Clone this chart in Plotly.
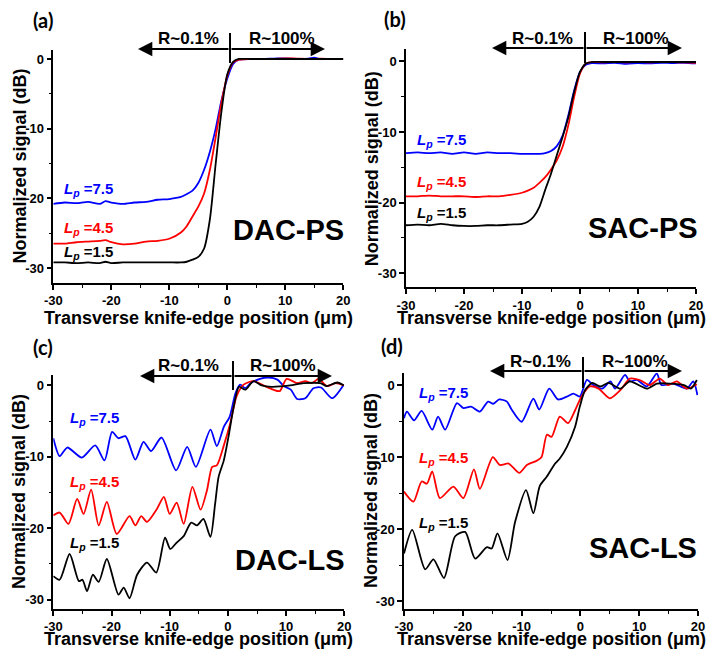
import plotly.graph_objects as go

# The page body has an 8 px margin; the figure is sized to fit inside it.
PAGE_W, PAGE_H = 714, 658
OFF = 8
W, H = PAGE_W - 2 * OFF, PAGE_H - 2 * OFF

# ---------------- data ----------------
X_TICKS = [-30, -20, -10, 0, 10, 20]
X_TICK_LABELS = ["-30", "-20", "-10", "0", "10", "20"]
Y_TICKS = [-30, -20, -10, 0]
Y_TICK_LABELS = ["-30", "-20", "-10", "0"]
LP_LABELS = ["7.5", "4.5", "1.5"]
PANEL_NAMES = ["DAC-PS", "SAC-PS", "DAC-LS", "SAC-LS"]
PANEL_TAGS = ["(a)", "(b)", "(c)", "(d)"]

# (a) DAC-PS
A_X = [-30, -28, -26, -24, -22, -21, -20, -18, -16, -14, -12, -10, -8, -7, -6, -5, -4, -3, -2, -1, 0, 1, 2, 4, 6, 8, 10, 12, 14, 15, 16, 18, 20]
A_BLUE = [-20.8, -20.6, -20.7, -20.5, -20.8, -20.4, -20.6, -20.8, -20.6, -20.5, -20.2, -20.1, -19.8, -19.4, -18.9, -17.8, -15.9, -13.3, -10.0, -5.9,
          -2.8, -0.7, -0.1, 0.0, 0.0, 0.05, 0.1, 0.0, 0.05, 0.2, 0.0, 0.0, 0.0]
A_RED = [-26.5, -26.5, -26.3, -26.2, -26.1, -26.0, -26.3, -26.6, -26.5, -26.2, -26.1, -25.8, -24.9, -24.0, -22.6, -21.2, -19.3, -15.9, -11.2, -6.2,
         -2.4, -0.5, -0.1, 0.0, 0.0, 0.0, 0.1, 0.05, 0.0, 0.0, 0.05, 0.0, 0.0]
A_BLACK = [-29.2, -29.2, -29.3, -29.2, -29.3, -29.1, -29.3, -29.2, -29.2, -29.2, -29.2, -29.2, -29.2, -29.1, -28.8, -28.4, -27.2, -23.0, -15.0, -7.5,
           -2.2, -0.4, 0.0, 0.0, 0.0, 0.0, 0.0, 0.0, 0.0, 0.0, 0.0, 0.0, 0.0]

# (b) SAC-PS
B_X = [-30, -28, -26, -24, -22, -20, -18, -16, -14, -12, -10, -9, -8, -7, -6, -5, -4, -3, -2, -1, 0, 1, 2, 4, 6, 8, 10, 12, 14, 16, 18, 20]
B_BLUE = [-13.0, -12.9, -13.0, -12.9, -13.1, -12.9, -13.1, -12.9, -13.0, -13.0, -13.1, -13.1, -13.1, -13.1, -13.0, -12.7, -12.0, -10.5, -7.6, -4.1,
          -1.5, -0.5, -0.25, -0.3, -0.2, -0.35, -0.25, -0.3, -0.2, -0.25, -0.2, -0.3]
B_RED = [-19.1, -19.1, -19.0, -19.1, -19.1, -19.1, -19.2, -19.1, -19.1, -18.9, -18.6, -18.3, -17.9, -17.2, -16.4, -15.3, -14.0, -12.1, -9.0, -5.0,
         -1.7, -0.3, -0.1, -0.15, -0.1, -0.15, -0.1, -0.15, -0.1, -0.1, -0.15, -0.2]
B_BLACK = [-23.2, -23.1, -23.2, -23.0, -23.2, -23.3, -23.3, -23.2, -23.2, -23.1, -23.0, -22.7, -22.0, -20.6, -18.2, -15.9, -13.3, -10.7, -7.9, -4.3,
           -1.5, -0.3, -0.1, -0.1, -0.1, -0.1, -0.1, -0.1, -0.1, -0.1, -0.1, -0.1]

# (c) DAC-LS
C_BLUE_X = [-30, -28.9, -27.6, -25.1, -22.8, -21.2, -19.9, -18.8, -17.6, -15.9, -14.5, -13.2, -11.4, -8.9, -7.0, -5.5, -3.0, -1.9, -0.7, 0.3,
            1.3, 2.1, 3.0, 3.9, 5.5, 7.0, 8.5, 9.6, 10.8, 11.9, 13.3, 14.7, 16.0, 17.9, 19.9]
C_BLUE_Y = [-7.4, -9.9, -8.7, -10.1, -8.4, -10.5, -6.5, -7.4, -7.1, -10.4, -7.9, -9.2, -7.3, -11.9, -8.6, -11.4, -6.2, -8.5, -5.8, -4.4,
            -1.1, 0.1, -0.4, 0.3, 0.9, 1.1, 0.8, -0.1, -0.6, -1.9, -1.8, -0.4, -0.3, -1.8, 0.1]
C_RED_X = [-30, -28.9, -27.4, -25.9, -24.8, -23.5, -22.2, -20.8, -19.1, -16.9, -15.9, -14.9, -13.9, -12.2, -11.0, -10.0, -8.8, -7.6, -6.1, -4.7,
           -3.6, -2.7, -1.9, -0.7, 0.4, 1.5, 2.7, 4.4, 6.1, 7.8, 8.9, 10.1, 11.9, 13.3, 14.4, 15.6, 17.0, 18.5, 19.9]
C_RED_Y = [-18.2, -17.8, -19.4, -15.9, -18.0, -14.6, -19.6, -16.3, -20.8, -18.3, -19.6, -18.3, -19.1, -17.3, -15.6, -18.0, -16.4, -19.4, -14.2, -17.4,
           -14.7, -11.4, -11.2, -8.4, -5.3, -1.5, 0.1, 0.6, 0.0, -0.6, -0.8, 0.9, 0.3, 0.6, 0.3, 0.9, -0.1, 0.3, 0.0]
C_BLACK_X = [-30, -28.9, -27.2, -25.6, -25.0, -24.2, -23.2, -22.2, -20.8, -18.8, -17.9, -16.9, -15.6, -13.9, -12.3, -10.8, -9.9, -8.8, -7.6, -6.3,
             -5.3, -4.2, -3.0, -2.2, -1.6, -0.7, 0.1, 1.0, 1.9, 3.0, 4.4, 5.8, 7.5, 10.7, 13.0, 15.9, 17.0, 18.8, 19.9]
C_BLACK_Y = [-26.7, -27.2, -23.6, -27.4, -27.2, -28.8, -26.5, -27.5, -24.3, -29.3, -28.3, -29.8, -26.5, -24.8, -26.2, -21.3, -22.9, -22.0, -21.1, -19.2,
             -19.6, -18.7, -21.2, -16.6, -12.8, -10.5, -7.2, -3.0, -0.2, -0.6, 0.6, 0.0, -0.2, 0.0, 0.3, 0.3, -0.1, 0.4, 0.0]

# (d) SAC-LS
D_BLUE_X = [-30, -29.5, -28.3, -27.0, -25.2, -24.2, -23.0, -21.0, -19.9, -18.6, -17.1, -15.7, -14.8, -13.8, -12.5, -11.7, -10.0, -8.0, -7.0, -5.3,
            -3.8, -2.3, -1.2, -0.1, 1.1, 2.2, 3.7, 5.1, 5.9, 7.6, 8.4, 9.6, 11.3, 13.0, 13.8, 15.8, 18.1, 19.2, 19.9]
D_BLUE_Y = [-4.6, -3.7, -4.9, -3.6, -6.2, -4.4, -6.2, -2.5, -3.2, -3.0, -3.7, -2.3, -2.6, -2.0, -2.3, -3.4, -5.1, -1.9, -3.4, -0.5,
            -2.0, -1.6, -1.2, -1.6, 0.7, 0.0, -0.5, 0.5, -0.5, 1.4, 0.5, 0.7, -0.2, 1.6, 0.0, 0.2, -0.5, 0.5, -1.4]
D_RED_X = [-30, -28.4, -27.0, -26.1, -25.2, -23.9, -21.6, -19.9, -18.1, -17.1, -14.9, -13.7, -12.2, -10.4, -9.1, -7.4, -6.6, -5.7, -4.9, -3.5,
           -2.1, -0.9, 0.2, 1.6, 3.1, 5.0, 6.8, 8.4, 10.1, 11.8, 13.5, 14.9, 16.4, 18.1, 19.8]
D_RED_Y = [-14.8, -16.2, -13.4, -13.7, -12.0, -15.7, -14.1, -15.7, -11.7, -14.4, -10.0, -11.1, -10.9, -12.2, -11.1, -10.5, -10.0, -6.9, -7.2, -4.4,
           -5.3, -3.5, -1.6, -0.2, -0.5, -1.85, -0.7, 0.9, 0.7, 0.0, 0.9, 0.0, 0.5, -0.5, 0.1]
D_BLACK_X = [-30, -28.6, -26.4, -25.0, -23.2, -21.3, -19.6, -17.9, -15.9, -15.1, -14.1, -12.4, -11.1, -9.25, -8.0, -6.9, -5.7, -4.3, -3.5, -2.3,
             -0.9, -0.1, 0.8, 2.0, 3.4, 4.8, 6.8, 8.4, 11.3, 13.0, 15.3, 17.6, 18.8, 19.8]
D_BLACK_Y = [-23.4, -20.1, -25.6, -24.2, -26.8, -21.0, -20.4, -24.1, -22.5, -22.7, -20.6, -24.3, -19.0, -14.6, -17.8, -14.0, -12.7, -10.9, -10.2, -8.6,
             -5.8, -3.0, -0.7, 0.3, -0.2, 0.3, -0.5, 0.5, -0.5, 0.2, 0.2, 0.0, -0.5, 0.7]

COLORS = ["#0000ff", "#ff0000", "#000000"]

SERIES = [
    [(A_X, A_BLUE), (A_X, A_RED), (A_X, A_BLACK)],
    [(B_X, B_BLUE), (B_X, B_RED), (B_X, B_BLACK)],
    [(C_BLUE_X, C_BLUE_Y), (C_RED_X, C_RED_Y), (C_BLACK_X, C_BLACK_Y)],
    [(D_BLUE_X, D_BLUE_Y), (D_RED_X, D_RED_Y), (D_BLACK_X, D_BLACK_Y)],
]


# ---------------- layout geometry (page pixels) ----------------
def px(x):
    return (x - OFF) / W


def py(y):
    return 1 - (y - OFF) / H


# axes boxes: left, right, top, bottom (page px)
BOX = [(53.3, 343.3, 50, 283), (406, 696, 49.3, 287.3), (53.3, 344.3, 375, 609), (404, 698, 373, 609)]
YRANGE = [[-32.15, 1.29], [-31.98, 1.7], [-31.3, 1.45], [-31.1, 1.67]]
XTITLE_Y = [318, 318, 639, 639]
YTITLE_X = [19, 372, 19, 371]

FONT = "Arial"

fig = go.Figure()

for i, panel in enumerate(SERIES):
    sfx = "" if i == 0 else str(i + 1)
    for j, (xs, ys) in enumerate(panel):
        fig.add_trace(go.Scatter(
            x=xs, y=ys, mode="lines",
            line=dict(color=COLORS[j], width=1.8, shape="spline", smoothing=0.7),
            xaxis="x" + sfx, yaxis="y" + sfx, showlegend=False, hoverinfo="skip"))

axis_common = dict(
    showline=True, linecolor="black", linewidth=1.5, ticks="outside", ticklen=5,
    tickwidth=1.5, tickcolor="black", showgrid=False, zeroline=False,
    tickfont=dict(family=FONT, size=13, color="black"),
)

layout = dict(width=W, height=H, margin=dict(l=0, r=0, t=0, b=0, autoexpand=False),
              plot_bgcolor="white", paper_bgcolor="white", showlegend=False)

annotations = []
shapes = []

ARROWS = [  # arrow y, left tip, right tip, vline x, vline y0, vline y1, text y, text xs
    (49, 138, 325, 230, 33, 63, 38, 188, 282),
    (48, 492, 682, 585, 32, 63, 38, 542, 636),
    (376, 140, 332, 233, 361, 390, 365, 188, 283),
    (371, 490, 682, 583, 357, 388, 362, 540, 635),
]
TAG_POS = [(43, 20), (395, 19), (43, 347), (392, 346)]
NAME_POS = [(288, 230), (643, 228), (290, 560), (643, 548)]
LP_POS = [(62, [190, 228, 252]), (415, [140, 183, 213]), (68, [418, 482, 543]), (417, [393, 458, 523])]

for i in range(4):
    sfx = "" if i == 0 else str(i + 1)
    l, r, t, b = BOX[i]
    xa = dict(axis_common, domain=[px(l), px(r)], range=[-30, 20], anchor="y" + sfx,
              tickvals=X_TICKS, ticktext=["<b>" + s + "</b>" for s in X_TICK_LABELS],
              minor=dict(dtick=5, tick0=0, ticks="outside", ticklen=3, tickwidth=1.2, tickcolor="black"))
    ya = dict(axis_common, domain=[py(b), py(t)], range=YRANGE[i], anchor="x" + sfx,
              tickvals=Y_TICKS, ticktext=["<b>" + s + "</b>" for s in Y_TICK_LABELS],
              minor=dict(dtick=5, tick0=0, ticks="outside", ticklen=3, tickwidth=1.2, tickcolor="black"))
    layout["xaxis" + sfx] = xa
    layout["yaxis" + sfx] = ya

    # axis titles
    annotations.append(dict(text="<b>Transverse knife-edge position (\u03bcm)</b>", xref="paper", yref="paper",
                            x=px((l + r) / 2), y=py(XTITLE_Y[i]), showarrow=False,
                            font=dict(family=FONT, size=18, color="black"),
                            xanchor="center", yanchor="middle"))
    annotations.append(dict(text="<b>Normalized signal (dB)</b>", xref="paper", yref="paper",
                            x=px(YTITLE_X[i]), y=py((t + b) / 2), showarrow=False, textangle=-90,
                            font=dict(family=FONT, size=18, color="black"),
                            xanchor="center", yanchor="middle"))
    # panel tag
    annotations.append(dict(text="<b>" + PANEL_TAGS[i] + "</b>", xref="paper", yref="paper",
                            x=px(TAG_POS[i][0]), y=py(TAG_POS[i][1]), showarrow=False,
                            font=dict(family="Lato", size=20, color="black"),
                            xanchor="center", yanchor="middle"))
    # panel name
    annotations.append(dict(text="<b>" + PANEL_NAMES[i] + "</b>", xref="paper", yref="paper",
                            x=px(NAME_POS[i][0]), y=py(NAME_POS[i][1]), showarrow=False,
                            font=dict(family=FONT, size=29, color="black"),
                            xanchor="center", yanchor="middle"))
    # Lp labels
    lx, lys = LP_POS[i]
    for j in range(3):
        annotations.append(dict(text="<b><i>L<sub>p</sub></i> =" + LP_LABELS[j] + "</b>", xref="paper", yref="paper",
                                x=px(lx), y=py(lys[j]), showarrow=False,
                                font=dict(family=FONT, size=15, color=COLORS[j]),
                                xanchor="left", yanchor="middle"))
    # arrows
    ay, ltip, rtip, vx, vy0, vy1, ty, tx1, tx2 = ARROWS[i]
    for tip in (ltip, rtip):
        annotations.append(dict(text="", xref="paper", yref="paper", x=px(tip), y=py(ay),
                                axref="pixel", ayref="pixel", ax=vx - tip, ay=0,
                                showarrow=True, arrowhead=2, arrowsize=1.3, arrowwidth=2.2,
                                arrowcolor="black"))
    shapes.append(dict(type="line", xref="paper", yref="paper", x0=px(vx), x1=px(vx),
                       y0=py(vy0), y1=py(vy1), line=dict(color="black", width=2)))
    annotations.append(dict(text="<b>R~0.1%</b>", xref="paper", yref="paper", x=px(tx1), y=py(ty),
                            showarrow=False, font=dict(family=FONT, size=17, color="black"),
                            xanchor="center", yanchor="middle"))
    annotations.append(dict(text="<b>R~100%</b>", xref="paper", yref="paper", x=px(tx2), y=py(ty),
                            showarrow=False, font=dict(family=FONT, size=17, color="black"),
                            xanchor="center", yanchor="middle"))

layout["annotations"] = annotations
layout["shapes"] = shapes
fig.update_layout(**layout)
fig.write_html("out.html")
